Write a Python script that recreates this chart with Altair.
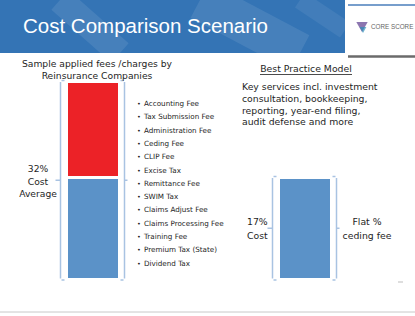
import altair as alt
import pandas as pd

# ---------------- data ----------------
groups = ["Reinsurance Companies", "Best Practice Model"]
seg_group = ["Reinsurance Companies", "Reinsurance Companies", "Best Practice Model"]
seg_kind = ["Base cost", "Applied fees", "Base cost"]
seg_value = [17, 16, 17]

fees = [
    "Accounting Fee", "Tax Submission Fee", "Administration Fee", "Ceding Fee",
    "CLIP Fee", "Excise Tax", "Remittance Fee", "SWIM Tax", "Claims Adjust Fee",
    "Claims Processing Fee", "Training Fee", "Premium Tax (State)", "Dividend Tax",
]
left_title = ["Sample applied fees /charges by", "Reinsurance Companies"]
left_cost = ["32%", "Cost", "Average"]
right_title = "Best Practice Model"
right_text = ["Key services incl. investment", "consultation, bookkeeping,",
              "reporting, year-end filing,", "audit defense and more"]
right_cost = ["17%", "Cost"]
right_note = ["Flat %", "ceding fee"]
slide_title = "Cost Comparison Scenario"

# ---------------- tables ----------------
rows, cum = [], {}
for g, k, v in zip(seg_group, seg_kind, seg_value):
    lo = cum.get(g, 0)
    rows.append({"group": g, "kind": k, "low": lo, "high": lo + v})
    cum[g] = lo + v
bars_df = pd.DataFrame(rows)

one = pd.DataFrame({"a": [0]})

BLUE_HDR = "#3474b5"
BAR_BLUE = "#5b92c8"
BAR_RED = "#ec2227"
BRACKET = "#a9c3e2"
TXT = "#1e1e1e"
FONT = "DejaVu Sans"

X0, X1, PAD = 66.5, 331.5, 0.75
xscale = alt.Scale(domain=groups, range=[X0, X1], paddingInner=PAD, paddingOuter=0)
Y0, Y1, YMAX = 279.5, 81.5, 33
yscale = alt.Scale(domain=[0, YMAX], range=[Y0, Y1])
X = alt.X("group:N", scale=xscale, axis=None)

step = (X1 - X0) / (len(groups) - PAD)
bw = step * (1 - PAD)
centers = [X0 + i * step + bw / 2 for i in range(len(groups))]


def ypix(v):
    return Y0 + (Y1 - Y0) * v / YMAX


def rule(x1, x2, y1, y2, color, width, opacity=1.0):
    return alt.Chart(one).mark_rule(color=color, strokeWidth=width, opacity=opacity).encode(
        x=alt.value(x1), x2=alt.value(x2), y=alt.value(y1), y2=alt.value(y2))


def text(s, x, y, size, align="left", color=TXT, font=FONT, weight="normal"):
    return alt.Chart(one).mark_text(
        text=s, align=align, baseline="middle", fontSize=size, font=font,
        color=color, fontWeight=weight).encode(x=alt.value(x), y=alt.value(y))


layers = []
# header band
layers.append(alt.Chart(one).mark_rect(color=BLUE_HDR).encode(
    x=alt.value(0), x2=alt.value(345), y=alt.value(0), y2=alt.value(53)))
layers.append(rule(60, 120, 0, 53, "white", 26, 0.09))
layers.append(rule(200, 300, 0, 53, "white", 40, 0.09))
layers.append(rule(300, 345, 0, 30, "white", 18, 0.07))
layers.append(text(slide_title, 23, 27, 20.5, color="white", font="Liberation Sans"))

# logo area
layers.append(rule(348, 415, 5, 5, "#4a7ebb", 1.5))
layers.append(rule(348, 415, 56.5, 56.5, "#6b6b6b", 2.5))
layers.append(alt.Chart(one).mark_point(shape="triangle-down", filled=True, color="#5b3c8e", size=130).encode(
    x=alt.value(362), y=alt.value(27)))
layers.append(alt.Chart(one).mark_point(shape="triangle-down", filled=True, color="#2f8fb8", size=45).encode(
    x=alt.value(363), y=alt.value(30)))
layers.append(text("CORE SCORE", 371, 27, 6.3, color="#666666", font="Liberation Sans"))

# bars
layers.append(alt.Chart(bars_df).mark_bar(stroke="white", strokeWidth=3).encode(
    x=X,
    y=alt.Y("low:Q", scale=yscale, axis=None),
    y2="high:Q",
    color=alt.Color("kind:N", scale=alt.Scale(domain=["Base cost", "Applied fees"],
                                              range=[BAR_BLUE, BAR_RED]), legend=None),
))

# brackets around each bar (decoration placed from the bar layout)
BW = 1.5
for g, c in zip(groups, centers):
    top, bot = ypix(cum[g]) - 1, ypix(0) + 0.5
    mid = (top + bot) / 2
    lx, rx = c - bw / 2 - 6, c + bw / 2 + 5
    layers.append(rule(lx, lx, top + 1.5, bot - 1.5, BRACKET, BW))
    layers.append(rule(rx, rx, top + 1.5, bot - 1.5, BRACKET, BW))
    for yy in (top, bot):
        layers.append(rule(lx + 1, lx + 4, yy, yy, BRACKET, BW))
        layers.append(rule(rx - 4, rx - 1, yy, yy, BRACKET, BW))
    layers.append(rule(lx - 5, lx, mid, mid, BRACKET, BW))
    layers.append(rule(rx, rx + 3, mid, mid, BRACKET, BW))

# left texts
for i, s in enumerate(left_title):
    layers.append(text(s, 97, 64 + i * 12, 9.2, align="center"))
for i, s in enumerate(left_cost):
    layers.append(text(s, 38, 169 + i * 12.6, 9.2, align="center"))
for i, s in enumerate(fees):
    layers.append(text("\u2022", 139, 104 + i * 13.3, 6.5, align="center"))
    layers.append(text(s, 144, 104 + i * 13.3, 7.2))

# right texts
layers.append(text(right_title, 306, 69, 9.3, align="center"))
layers.append(rule(260, 352, 74.5, 74.5, TXT, 0.8))
for i, s in enumerate(right_text):
    layers.append(text(s, 242, 87 + i * 11.8, 9.3))
for i, s in enumerate(right_cost):
    layers.append(text(s, 247, 222 + i * 14, 9.3))
for i, s in enumerate(right_note):
    layers.append(text(s, 367, 222 + i * 13.5, 9.3, align="center"))

# footer
layers.append(rule(398, 403, 282, 282, "#bdbdbd", 1))
layers.append(rule(0, 415, 312, 312, "#c8c8c8", 1))

chart = alt.layer(*layers).properties(
    width=415, height=316, padding=0, autosize="none", background="white"
).configure_view(stroke=None)

chart.save("out.html", embed_options={"renderer": "svg", "actions": False})
